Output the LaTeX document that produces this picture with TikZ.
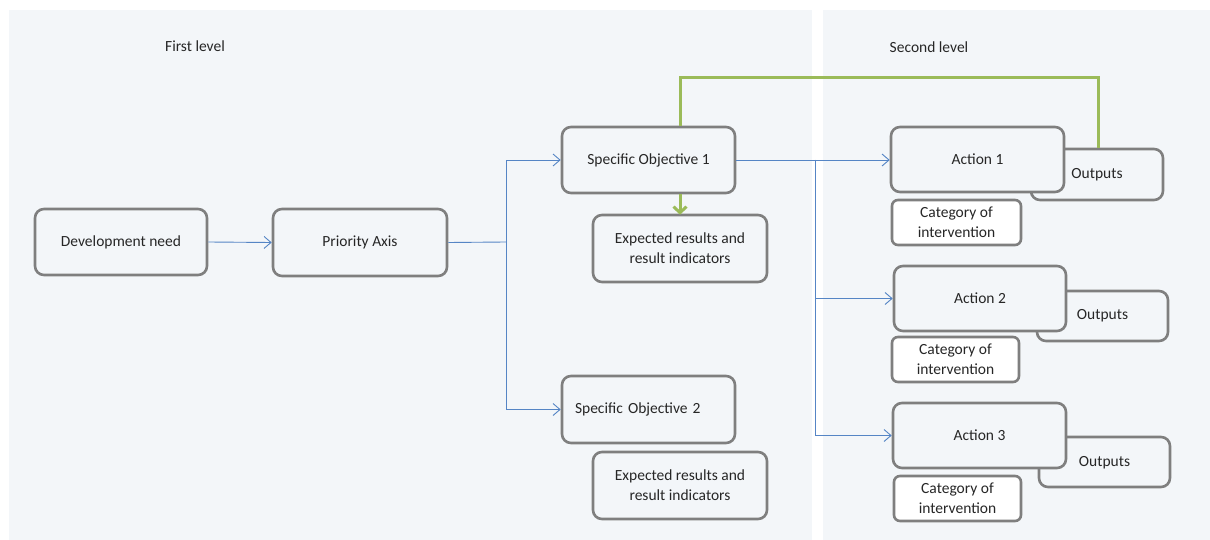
\documentclass[tikz,border=0pt]{standalone}
\usepackage{fontspec}
\setmainfont{Carlito}
\usetikzlibrary{arrows.meta}
\definecolor{panel}{HTML}{F3F6F9}
\definecolor{boxline}{HTML}{7F7F7F}
\definecolor{txt}{HTML}{262626}
\definecolor{flow}{HTML}{5585C5}
\definecolor{lev}{HTML}{9BBB59}
\begin{document}
\begin{tikzpicture}[x=1pt,y=-1pt,
  every node/.style={font=\fontsize{15.5}{20}\selectfont, text=txt},
  box/.style={draw=boxline, line width=2.6pt, rounded corners=9pt, fill=panel, align=center, inner sep=2pt},
  catbox/.style={box, fill=white, rounded corners=6pt},
  flowline/.style={draw=flow, line width=0.9pt},
  flowarrow/.style={flowline, -{Straight Barb[length=7pt, width=12pt, line width=0.9pt]}},
  greenline/.style={draw=lev, line width=3pt},
  greenarrow/.style={greenline, -{Straight Barb[length=6pt, width=13pt, line width=3pt]}},
  levlabel/.style={inner sep=0pt}]
\useasboundingbox (0,0) rectangle (1210,540);
\fill[panel] (9,10) rectangle (812,540);
\fill[panel] (823,10) rectangle (1210,540);

\node[levlabel] (l1) at (195,46) {First level};
\node[levlabel] (l2) at (929,47) {Second level};

\node[box, minimum width=172pt, minimum height=66pt] (dn) at (121,242) {Development need};
\node[box, minimum width=174pt, minimum height=67pt] (pa) at (360,242.5) {Priority Axis};
\node[box, minimum width=173pt, minimum height=66pt] (so1) at (648.5,160) {Specific Objective 1};
\node[box, minimum width=174pt, minimum height=67pt] (er1) at (680,248.5) {Expected results and\\result indicators};
\node[box, minimum height=67pt, text width=147pt, inner xsep=13pt, align=left] (so2) at (648.5,409.5) {Specific Objective 2};
\node[box, minimum width=174pt, minimum height=67pt] (er2) at (680,485.5) {Expected results and\\result indicators};

\node[box, minimum width=132pt, minimum height=51pt] (o1) at (1097,174.5) {};
\node (o1t) at (1097,174.5) {Outputs};
\node[box, minimum width=173pt, minimum height=65pt] (a1) at (977.5,159.5) {Action 1};
\node[catbox, minimum width=129pt, minimum height=45pt] (c1) at (956.5,222.5) {Category of\\intervention};

\node[box, minimum width=131pt, minimum height=50pt] (o2) at (1102.5,316) {};
\node (o2t) at (1102.5,316) {Outputs};
\node[box, minimum width=172pt, minimum height=65pt] (a2) at (980,298.5) {Action 2};
\node[catbox, minimum width=127pt, minimum height=45pt] (c2) at (955.5,359.5) {Category of\\intervention};

\node[box, minimum width=131pt, minimum height=50pt] (o3) at (1104.5,462) {};
\node (o3t) at (1104.5,463) {Outputs};
\node[box, minimum width=173pt, minimum height=65pt] (a3) at (979.5,435.5) {Action 3};
\node[catbox, minimum width=127pt, minimum height=45pt] (c3) at (957.5,498.5) {Category of\\intervention};

\coordinate (j1) at (506,242);
\coordinate (j2) at (815,160);
\coordinate (g) at (680,78);

\draw[flowarrow] (dn.east) -- (pa.west);
\draw[flowline] (pa.east) -- (j1);
\draw[flowarrow] (j1) |- (so1.west);
\draw[flowarrow] (j1) |- (so2.west);
\draw[flowarrow] (so1.east) -- (so1.east -| a1.west);
\draw[flowarrow] (j2) |- (a2.west);
\draw[flowarrow] (j2) |- (a3.west);

\draw[greenline] (so1.north -| g) -- (g) -| ([xshift=1pt]o1.north);
\draw[greenarrow] (so1.south -| g) -- ([yshift=-1pt]er1.north);
\end{tikzpicture}
\end{document}
